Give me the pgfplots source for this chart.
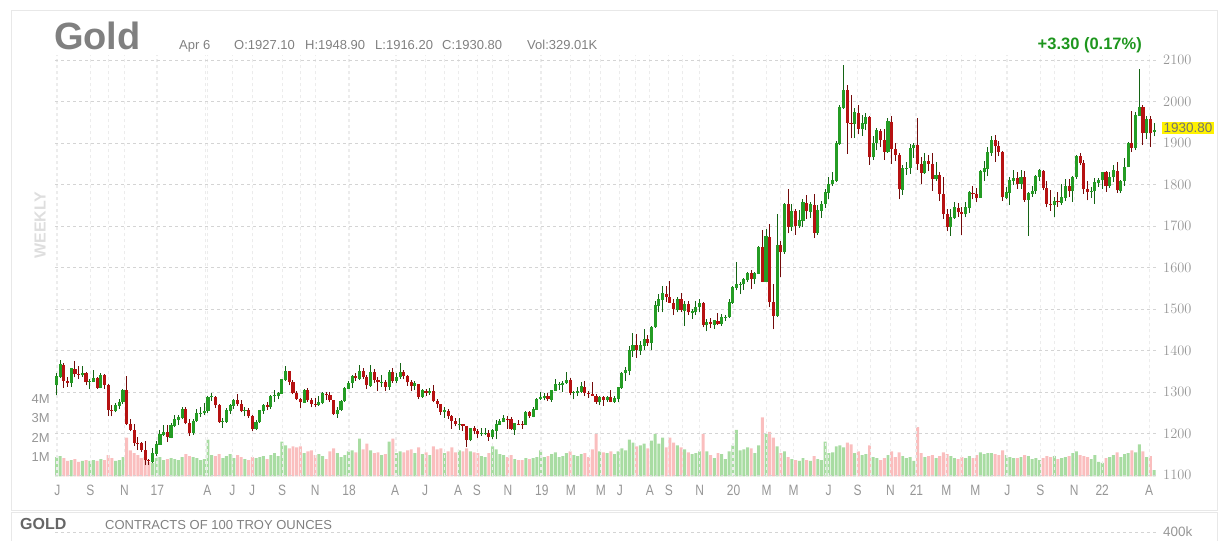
\documentclass[border=0pt]{standalone}
\usepackage{pgfplots}
\pgfplotsset{compat=1.18}
\usepackage{pgfplotstable}
\usepackage{fontspec}
\setmainfont{Liberation Sans}
\newfontfamily\narrowfont[FakeStretch=0.8]{Liberation Sans}

\definecolor{upbody}{RGB}{36,156,36}
\definecolor{upline}{RGB}{20,100,20}
\definecolor{dnbody}{RGB}{182,18,18}
\definecolor{dnline}{RGB}{115,10,10}
\definecolor{upvol}{RGB}{168,220,162}
\definecolor{dnvol}{RGB}{250,190,190}
\definecolor{txtgray}{RGB}{128,128,128}
\definecolor{lblgray}{RGB}{150,150,150}
\definecolor{gridgray}{RGB}{212,212,212}
\definecolor{faintgrid}{RGB}{236,236,236}
\definecolor{panel}{RGB}{232,232,232}
\definecolor{chgreen}{RGB}{30,150,30}

% weekly gold futures: index, open, high, low, close, volume (millions)
\pgfplotstableread{
i O H L C V
0 1318 1345 1292 1338 1.00
1 1338 1377 1334 1366 1.05
2 1366 1369 1310 1327 0.95
3 1327 1336 1313 1322 0.80
4 1322 1358 1312 1356 0.85
5 1356 1374 1335 1344 0.90
6 1344 1362 1331 1341 0.75
7 1341 1362 1337 1346 0.80
8 1346 1349 1316 1324 0.85
9 1324 1331 1307 1326 0.80
10 1326 1352 1324 1334 0.85
11 1334 1336 1308 1310 0.80
12 1310 1345 1309 1340 0.90
13 1340 1343 1308 1317 0.85
14 1317 1319 1242 1257 1.10
15 1257 1268 1241 1255 0.95
16 1255 1274 1251 1267 0.80
17 1267 1284 1259 1276 0.85
18 1276 1308 1271 1305 1.00
19 1305 1338 1220 1224 2.00
20 1224 1236 1205 1208 1.35
21 1208 1222 1171 1178 1.20
22 1178 1191 1160 1177 1.10
23 1177 1180 1156 1161 0.95
24 1161 1181 1124 1137 1.00
25 1137 1139 1125 1133 0.75
26 1133 1165 1130 1152 0.70
27 1152 1182 1146 1173 0.95
28 1173 1208 1172 1197 1.00
29 1197 1220 1195 1204 0.85
30 1204 1220 1180 1191 0.90
31 1191 1226 1188 1220 0.95
32 1220 1245 1215 1234 0.90
33 1234 1245 1220 1239 0.85
34 1239 1264 1234 1258 1.00
35 1258 1264 1222 1226 1.15
36 1226 1235 1194 1201 1.05
37 1201 1235 1196 1230 1.00
38 1230 1260 1228 1249 0.95
39 1249 1264 1240 1249 0.85
40 1249 1274 1244 1254 0.90
41 1254 1290 1250 1288 1.90
42 1288 1297 1278 1289 1.10
43 1289 1290 1261 1268 1.05
44 1268 1270 1226 1228 1.15
45 1228 1237 1214 1229 0.95
46 1229 1262 1226 1255 1.05
47 1255 1271 1248 1268 1.15
48 1268 1283 1259 1281 0.95
49 1281 1296 1267 1271 1.10
50 1271 1281 1251 1255 1.00
51 1255 1263 1241 1256 0.90
52 1256 1262 1238 1242 0.85
53 1242 1245 1206 1212 1.00
54 1212 1233 1208 1228 0.95
55 1228 1257 1226 1255 1.00
56 1255 1272 1247 1269 1.05
57 1269 1275 1256 1264 0.90
58 1264 1292 1259 1290 1.10
59 1290 1306 1277 1291 1.20
60 1291 1300 1282 1297 1.05
61 1297 1332 1295 1330 1.80
62 1330 1362 1327 1351 1.60
63 1351 1351 1316 1325 1.45
64 1325 1330 1294 1297 1.55
65 1297 1303 1281 1284 1.50
66 1284 1285 1261 1275 1.55
67 1275 1307 1275 1305 1.20
68 1305 1309 1277 1280 1.30
69 1280 1285 1263 1272 1.35
70 1272 1285 1264 1269 1.10
71 1269 1291 1267 1274 1.15
72 1274 1300 1270 1296 1.05
73 1296 1299 1281 1292 0.90
74 1292 1300 1276 1280 1.30
75 1280 1280 1244 1248 1.45
76 1248 1263 1238 1257 1.20
77 1257 1280 1255 1278 1.00
78 1278 1311 1276 1309 1.10
79 1309 1326 1307 1322 1.30
80 1322 1340 1310 1338 1.35
81 1338 1345 1327 1333 1.25
82 1333 1366 1330 1351 1.95
83 1351 1358 1331 1337 1.40
84 1337 1341 1307 1316 1.70
85 1316 1365 1313 1347 1.35
86 1347 1355 1322 1330 1.20
87 1330 1335 1303 1323 1.25
88 1323 1341 1312 1323 1.10
89 1323 1329 1302 1313 1.15
90 1313 1352 1306 1347 1.80
91 1347 1357 1322 1327 1.95
92 1327 1346 1321 1336 1.20
93 1336 1369 1332 1347 1.30
94 1347 1354 1331 1338 1.25
95 1338 1340 1315 1323 1.35
96 1323 1330 1302 1315 1.40
97 1315 1327 1306 1320 1.20
98 1320 1320 1282 1289 1.50
99 1289 1308 1285 1303 1.15
100 1303 1307 1290 1298 1.25
101 1298 1309 1293 1302 1.10
102 1302 1316 1275 1278 1.55
103 1278 1282 1261 1270 1.40
104 1270 1272 1245 1253 1.45
105 1253 1264 1238 1255 1.20
106 1255 1260 1236 1241 1.30
107 1241 1244 1211 1231 1.50
108 1231 1237 1217 1223 1.25
109 1223 1237 1208 1223 1.35
110 1223 1224 1206 1219 1.30
111 1219 1219 1167 1184 1.45
112 1184 1214 1181 1213 1.30
113 1213 1218 1198 1206 1.25
114 1206 1210 1189 1200 1.20
115 1200 1213 1195 1201 1.05
116 1201 1214 1196 1201 1.00
117 1201 1208 1183 1192 1.20
118 1192 1210 1186 1207 1.55
119 1207 1233 1186 1222 1.40
120 1222 1236 1221 1229 1.15
121 1229 1245 1227 1236 1.10
122 1236 1242 1212 1235 1.00
123 1235 1240 1208 1210 1.10
124 1210 1226 1197 1224 0.90
125 1224 1232 1220 1223 0.85
126 1223 1231 1212 1222 0.85
127 1222 1254 1221 1252 0.95
128 1252 1254 1237 1241 0.90
129 1241 1263 1239 1258 0.95
130 1258 1285 1257 1283 1.00
131 1283 1300 1281 1286 1.35
132 1286 1298 1280 1290 1.00
133 1290 1298 1278 1282 1.05
134 1282 1305 1277 1303 1.15
135 1303 1331 1302 1318 1.25
136 1318 1325 1305 1318 1.00
137 1318 1326 1300 1322 1.05
138 1322 1349 1320 1329 1.20
139 1329 1333 1292 1298 1.30
140 1298 1302 1282 1299 1.10
141 1299 1313 1290 1302 1.05
142 1302 1324 1298 1313 1.15
143 1313 1327 1290 1298 1.20
144 1298 1302 1285 1295 1.00
145 1295 1325 1290 1291 1.40
146 1291 1296 1272 1276 2.20
147 1276 1290 1268 1288 1.30
148 1288 1290 1267 1281 1.25
149 1281 1290 1277 1287 1.20
150 1287 1305 1275 1277 1.30
151 1277 1290 1273 1284 1.15
152 1284 1313 1275 1311 1.30
153 1311 1348 1308 1346 1.45
154 1346 1361 1327 1352 1.35
155 1352 1412 1340 1400 1.90
156 1400 1442 1385 1413 1.75
157 1413 1440 1382 1400 1.55
158 1400 1423 1390 1412 1.60
159 1412 1453 1402 1427 1.70
160 1427 1437 1411 1419 1.45
161 1419 1460 1400 1457 1.85
162 1457 1520 1455 1509 2.20
163 1509 1535 1492 1523 1.70
164 1523 1555 1492 1537 2.00
165 1537 1556 1518 1529 1.50
166 1529 1567 1514 1515 2.00
167 1515 1523 1485 1499 1.75
168 1499 1530 1492 1524 1.60
169 1524 1539 1493 1497 1.50
170 1497 1519 1459 1512 1.40
171 1512 1520 1485 1492 1.25
172 1492 1500 1477 1494 1.15
173 1494 1519 1485 1505 1.20
174 1505 1525 1492 1514 1.30
175 1514 1517 1456 1462 2.20
176 1462 1475 1446 1468 1.30
177 1468 1478 1455 1463 1.10
178 1463 1474 1453 1472 0.95
179 1472 1490 1461 1465 1.20
180 1465 1487 1460 1481 1.15
181 1481 1486 1472 1481 0.90
182 1481 1525 1478 1515 1.30
183 1515 1555 1513 1552 1.60
184 1552 1613 1545 1560 2.40
185 1560 1564 1536 1560 1.35
186 1560 1575 1546 1571 1.40
187 1571 1590 1565 1587 1.50
188 1587 1593 1548 1573 1.45
189 1573 1588 1561 1586 1.20
190 1586 1651 1584 1649 1.60
191 1649 1691 1565 1566 3.05
192 1566 1693 1564 1674 2.20
193 1674 1704 1504 1516 2.30
194 1516 1560 1451 1484 2.00
195 1484 1729 1481 1654 1.55
196 1654 1665 1576 1638 1.20
197 1638 1755 1633 1752 1.30
198 1752 1788 1682 1698 1.00
199 1698 1753 1688 1735 0.90
200 1735 1740 1679 1700 0.85
201 1700 1738 1695 1713 0.80
202 1713 1765 1697 1756 0.95
203 1756 1775 1718 1735 0.85
204 1735 1758 1719 1751 0.80
205 1751 1776 1671 1683 1.05
206 1683 1750 1678 1737 0.90
207 1737 1760 1720 1753 0.85
208 1753 1788 1743 1780 1.80
209 1780 1818 1764 1801 1.20
210 1801 1830 1796 1810 1.25
211 1810 1904 1806 1899 1.55
212 1899 1992 1896 1986 1.60
213 1986 2089 1983 2028 1.50
214 2028 2040 1874 1949 1.75
215 1949 2015 1911 1947 1.65
216 1947 1985 1912 1973 1.20
217 1973 1992 1921 1934 1.30
218 1934 1967 1918 1947 1.10
219 1947 1973 1931 1962 1.15
220 1962 1965 1848 1866 1.60
221 1866 1917 1860 1900 1.00
222 1900 1935 1882 1930 0.95
223 1930 1933 1890 1906 0.85
224 1906 1933 1860 1879 0.95
225 1879 1960 1876 1951 1.10
226 1951 1966 1850 1886 1.30
227 1886 1900 1856 1872 1.00
228 1872 1877 1764 1788 1.25
229 1788 1848 1775 1840 1.05
230 1840 1855 1823 1840 0.95
231 1840 1897 1826 1888 1.00
232 1888 1900 1864 1895 0.80
233 1895 1959 1835 1849 2.55
234 1849 1866 1802 1828 1.20
235 1828 1875 1826 1856 1.00
236 1856 1870 1832 1850 1.05
237 1850 1875 1785 1814 1.10
238 1814 1855 1809 1823 0.95
239 1823 1830 1760 1777 1.05
240 1777 1817 1717 1729 1.25
241 1729 1740 1687 1698 1.15
242 1698 1740 1677 1720 1.05
243 1720 1757 1717 1744 0.95
244 1744 1755 1722 1733 0.90
245 1733 1745 1678 1729 1.00
246 1729 1759 1721 1744 0.95
247 1744 1785 1732 1780 1.05
248 1780 1797 1764 1777 0.95
249 1777 1791 1757 1768 1.10
250 1768 1836 1768 1832 1.25
251 1832 1856 1808 1838 1.15
252 1838 1891 1820 1877 1.20
253 1877 1916 1869 1906 1.20
254 1906 1920 1855 1892 1.15
255 1892 1904 1868 1879 1.10
256 1879 1880 1761 1769 1.35
257 1769 1793 1766 1781 1.10
258 1781 1818 1750 1810 1.00
259 1810 1834 1799 1815 0.95
260 1815 1830 1789 1802 0.95
261 1802 1836 1790 1817 1.00
262 1817 1832 1759 1763 1.10
263 1763 1782 1677 1778 1.05
264 1778 1796 1771 1784 0.90
265 1784 1823 1778 1819 0.95
266 1819 1837 1808 1833 0.85
267 1833 1836 1786 1792 0.95
268 1792 1808 1745 1754 1.05
269 1754 1787 1737 1751 1.00
270 1751 1770 1721 1760 1.05
271 1760 1782 1746 1757 0.90
272 1757 1801 1750 1768 0.95
273 1768 1814 1760 1796 1.00
274 1796 1813 1770 1784 1.05
275 1784 1820 1758 1818 1.20
276 1818 1870 1813 1868 1.30
277 1868 1877 1846 1852 1.10
278 1852 1860 1778 1788 1.05
279 1788 1809 1762 1783 1.00
280 1783 1793 1768 1784 0.90
281 1784 1815 1753 1804 1.10
282 1804 1815 1795 1811 0.75
283 1811 1831 1790 1829 0.70
284 1829 1832 1783 1797 0.95
285 1797 1830 1791 1818 1.00
286 1818 1848 1807 1833 1.10
287 1833 1854 1780 1786 1.25
288 1786 1812 1779 1808 1.00
289 1808 1865 1797 1842 1.15
290 1842 1903 1842 1900 1.20
291 1900 1976 1878 1889 1.35
292 1889 1975 1883 1967 1.25
293 1967 2078 1967 1986 1.65
294 1986 1992 1895 1924 1.30
295 1924 1966 1909 1958 1.00
296 1958 1966 1890 1923 1.05
297 1927.1 1948.9 1916.2 1930.8 0.33
}\gold

\pgfplotsset{
  chartbox/.style={
    at={(55pt,64.5pt)}, anchor=south west, scale only axis,
    width=1102pt, height=421.5pt,
    xmin=-0.4, xmax=297.8,
    axis line style={draw=none},
    major tick length=0pt, minor tick length=0pt,
    clip=true,
  },
  up/.style={restrict expr to domain={\thisrow{C}-\thisrow{O}}{0:100000}},
  down/.style={restrict expr to domain={\thisrow{C}-\thisrow{O}}{-100000:-0.001}},
  stick/.style n args={3}{draw=none, mark=none, #1,
    error bars/.cd, y dir=plus, y explicit, error mark=none,
    error bar style={draw=#2, solid, line width=#3}},
}

\begin{document}
\begin{tikzpicture}
\path[use as bounding box] (0,0) rectangle (1224pt,541pt);

% panel frame
\draw[panel, line width=1pt] (11pt,30pt) rectangle (1217pt,530pt);
\draw[panel, line width=1pt] (11pt,0pt) -- (11pt,28pt) -- (1217pt,28pt) -- (1217pt,0pt);

% volume
\begin{axis}[chartbox,
  ymin=0, ymax=21.73,
  xtick=\empty,
  ytick={1,2,3,4}, yticklabels={1M,2M,3M,4M},
  yticklabel style={anchor=east, inner sep=0pt, xshift=-5pt,
    font=\fontsize{13}{15}\selectfont, text=lblgray},
]
  \addplot[ybar, bar width=0.8, bar shift=0pt, draw=none, fill=upvol, up]
    table[x=i, y=V] {\gold};
  \addplot[ybar, bar width=0.8, bar shift=0pt, draw=none, fill=dnvol, down]
    table[x=i, y=V] {\gold};
\end{axis}

% price
\begin{axis}[chartbox,
  ymin=1096.4, ymax=2112,
  ytick={1100,1200,...,2100},
  yticklabel pos=right,
  yticklabel style={anchor=west, inner sep=0pt, xshift=6pt,
    font=\fontsize{13.5}{15}\selectfont, text=lblgray,
    /pgf/number format/1000 sep={}},
  xtick={0.27,9.19,18.38,27.30,40.81,47.57,52.97,61.08,70.0,79.19,91.62,99.73,
    108.65,113.78,122.16,131.35,139.19,147.30,152.43,160.54,165.68,174.05,
    183.24,192.16,199.46,208.92,216.76,225.68,232.70,240.81,248.65,257.30,
    266.22,275.41,282.97,295.68},
  xticklabels={J,S,N,17,A,J,J,S,N,18,A,J,A,S,N,19,M,M,J,A,S,N,20,M,M,J,S,N,21,M,M,J,S,N,22,A},
  xticklabel style={anchor=north, inner sep=0pt, yshift=-8pt,
    font=\narrowfont\fontsize{15}{16}\selectfont, text=lblgray},
  minor xtick={0,14.05,27.03,40.27,52.97,65.95,78.92,91.89,104.86,117.84,131.08,
    144.32,156.76,169.46,182.97,195.95,208.11,220.27,232.43,244.86,257.03,
    270.0,282.97,295.68},
  ymajorgrids, xmajorgrids, xminorgrids,
  major grid style={gridgray, dash pattern=on 3pt off 3pt, line width=0.8pt},
  minor grid style={gridgray, dash pattern=on 3pt off 3pt, line width=0.8pt},
  x grid style={faintgrid},
]
  % wicks
  \addplot[stick={up}{upline}{1pt}]
    table[x=i, y=L, y error plus expr=\thisrow{H}-\thisrow{L}] {\gold};
  \addplot[stick={down}{dnline}{1pt}]
    table[x=i, y=L, y error plus expr=\thisrow{H}-\thisrow{L}] {\gold};
  % bodies
  \addplot[stick={up}{upbody}{3.1pt}]
    table[x=i, y expr=\thisrow{O}-0.8, y error plus expr={\thisrow{C}-\thisrow{O}+1.6}] {\gold};
  \addplot[stick={down}{dnbody}{3.1pt}]
    table[x=i, y=C, y error plus expr=\thisrow{O}-\thisrow{C}] {\gold};
\end{axis}

% header
\node[anchor=base west, inner sep=0pt, text=txtgray]
  at (54pt,491pt) {\fontsize{38}{40}\selectfont\bfseries Gold};
\begin{scope}[every node/.style={anchor=base west, inner sep=0pt, text=txtgray,
    font=\fontsize{13}{15}\selectfont}]
  \node at (179pt,491pt) {Apr 6};
  \node at (234pt,491pt) {O:1927.10};
  \node at (305pt,491pt) {H:1948.90};
  \node at (375pt,491pt) {L:1916.20};
  \node at (442pt,491pt) {C:1930.80};
  \node at (527pt,491pt) {Vol:329.01K};
\end{scope}
\node[anchor=base east, inner sep=0pt, text=chgreen]
  at (1142pt,491pt) {\fontsize{16.5}{18}\selectfont\bfseries +3.30 (0.17\%)};

% side label
\node[rotate=90, inner sep=0pt, text=black!13]
  at (40pt,316pt) {\fontsize{16}{18}\selectfont\bfseries WEEKLY};

% last price marker
\node[anchor=west, fill=yellow, inner sep=1.5pt, text=black!55]
  at (1162pt,413pt) {\fontsize{13.5}{15}\selectfont 1930.80};

% lower panel
\node[anchor=base west, inner sep=0pt, text=black!60]
  at (20pt,11pt) {\fontsize{16}{18}\selectfont\bfseries GOLD};
\node[anchor=base west, inner sep=0pt, text=txtgray]
  at (105pt,11pt) {\fontsize{13}{15}\selectfont CONTRACTS OF 100 TROY OUNCES};
\draw[gridgray, dash pattern=on 3pt off 3pt, line width=0.8pt] (55pt,9pt) -- (1157pt,9pt);
\node[anchor=west, inner sep=0pt, text=lblgray]
  at (1163pt,9pt) {\fontsize{13.5}{15}\selectfont 400k};
\end{tikzpicture}
\end{document}
